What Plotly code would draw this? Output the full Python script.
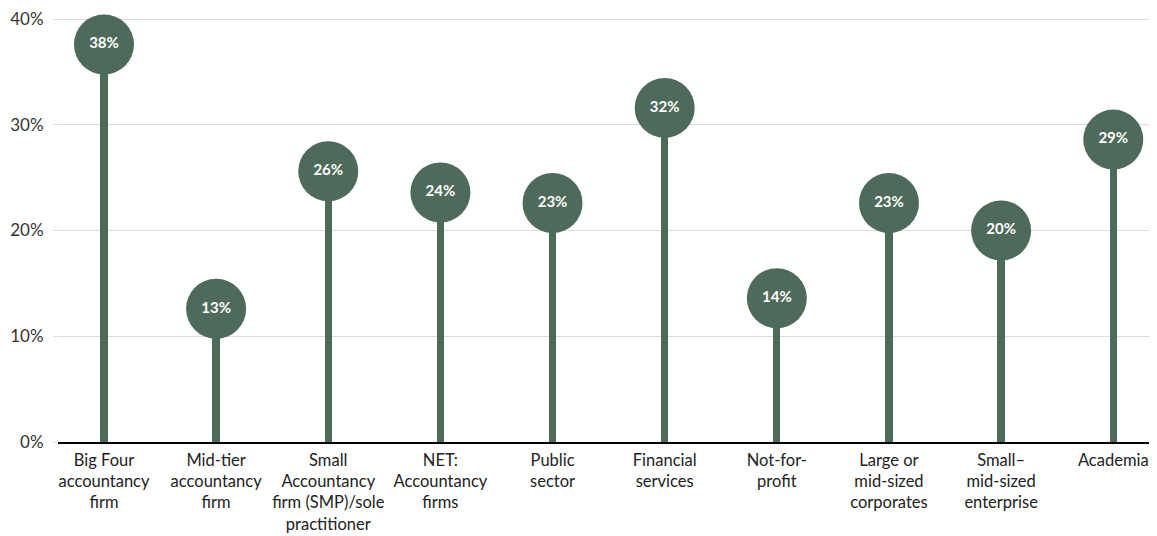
import plotly.graph_objects as go

categories = [
    "Big Four<br>accountancy<br>firm",
    "Mid-tier<br>accountancy<br>firm",
    "Small<br>Accountancy<br>firm (SMP)/sole<br>practitioner",
    "NET:<br>Accountancy<br>firms",
    "Public<br>sector",
    "Financial<br>services",
    "Not-for-<br>profit",
    "Large or<br>mid-sized<br>corporates",
    "Small–<br>mid-sized<br>enterprise",
    "Academia",
]
values = [37.6, 12.6, 25.6, 23.6, 22.6, 31.6, 13.6, 22.6, 20.0, 28.6]
y_ticks = [0, 10, 20, 30, 40]
y_tick_labels = [f"{t}%" for t in y_ticks]

COLOR = "#4d6a5a"
FONT = "Lato, 'Open Sans', sans-serif"

fig = go.Figure()
fig.add_trace(go.Bar(
    x=categories, y=values, width=0.065,
    marker=dict(color=COLOR, line=dict(width=0)),
    hoverinfo="skip", showlegend=False,
))
fig.add_trace(go.Scatter(
    x=categories, y=values, mode="markers+text",
    marker=dict(size=60, color=COLOR, line=dict(width=0)),
    text=[f"{round(v)}%" for v in values],
    textposition="middle center",
    textfont=dict(color="white", size=15, family=FONT, weight="bold"),
    cliponaxis=False, showlegend=False,
))

fig.update_layout(
    width=1149, height=528,
    margin=dict(l=50, r=0, t=10, b=94),
    plot_bgcolor="white", paper_bgcolor="white",
    font=dict(family=FONT, color="#222222"),
    bargap=0,
)
fig.update_xaxes(
    type="category", range=[-0.41, 9.39], automargin=False,
    showgrid=False, showline=True, linecolor="#000000", linewidth=1.5,
    ticks="", ticklabelstandoff=2,
    tickfont=dict(size=16.5, color="#222222", family=FONT),
)
fig.update_yaxes(
    range=[0, 40.1], tickvals=y_ticks, ticktext=y_tick_labels, automargin=False,
    showgrid=True, gridcolor="#dcdcdc", gridwidth=1,
    ticks="outside", ticklen=4, tickcolor="#dcdcdc", ticklabelstandoff=6,
    ticklabeloverflow="allow",
    tickfont=dict(size=17, color="#333333", family=FONT),
    zeroline=False, showline=False,
)

fig.write_html("out.html")
